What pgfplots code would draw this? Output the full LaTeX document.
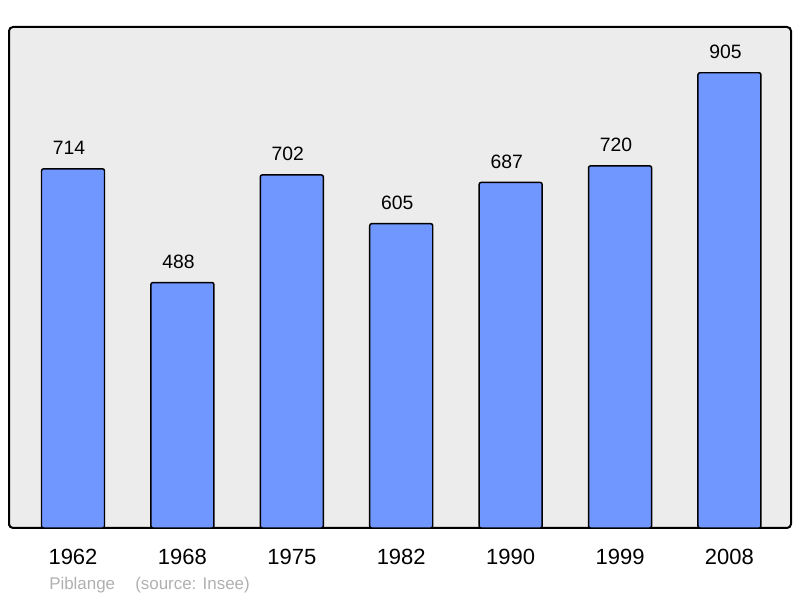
\documentclass[border=0pt]{standalone}
\usepackage{pgfplots}
\pgfplotsset{compat=1.18}
\usepackage{fontspec}
\setmainfont{Liberation Sans}
\definecolor{barblue}{RGB}{112,150,255}
\definecolor{bggray}{RGB}{236,236,236}
\definecolor{footgray}{RGB}{176,176,176}
\begin{document}
\begin{tikzpicture}
\path[use as bounding box] (0,0) rectangle (600pt,448.5pt);
\begin{axis}[
  at={(6.75pt,52.5pt)}, anchor=south west,
  scale only axis, width=586.5pt, height=375.75pt,
  xmin=-0.585, xmax=6.5625, ymin=0, ymax=996,
  axis background/.style={fill=bggray},
  axis line style={line width=1.5pt, rounded corners=3pt},
  xtick={0,1,2,3,4,5,6},
  xticklabels={1962,1968,1975,1982,1990,1999,2008},
  ytick=\empty,
  major tick length=0pt,
  /pgf/number format/assume math mode=true,
  xticklabel style={font=\fontsize{16.5}{18}\selectfont, anchor=base, yshift=-27.5pt},
  nodes near coords,
  nodes near coords style={font=\fontsize{14.5}{16}\selectfont, anchor=base, yshift=10.5pt, xshift=-3pt, /pgf/number format/fixed},
]
\addplot[ybar, bar width=0.576, fill=barblue, draw=black, line width=1.1pt, rounded corners=1.5pt]
coordinates {(0,714) (1,488) (2,702) (3,605) (4,687) (5,720) (6,905)};
\end{axis}
\node[anchor=base west, text=footgray, font=\fontsize{12.7}{14}\selectfont, inner sep=0pt] at (36.75pt,6pt) {Piblange};
\node[anchor=base west, text=footgray, font=\fontsize{12.7}{14}\selectfont, inner sep=0pt] at (101.25pt,6pt) {(source: Insee)};
\end{tikzpicture}
\end{document}
